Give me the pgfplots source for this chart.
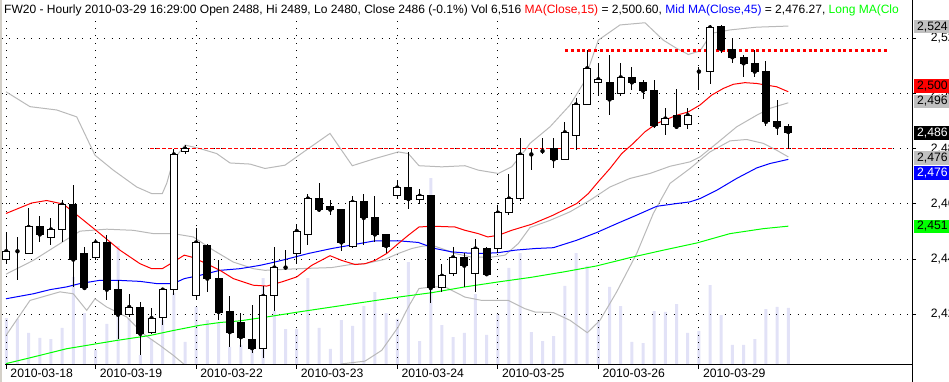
\documentclass[border=0pt]{standalone}
\usepackage{fontspec}
\setmainfont{Liberation Sans}
\usepackage{pgfplots}
\pgfplotsset{compat=1.18}
\usepackage{pgfplotstable}

\definecolor{volc}{RGB}{226,226,247}
\definecolor{bandc}{RGB}{185,185,185}
\definecolor{lblgrey}{RGB}{192,192,192}
\definecolor{magreen}{RGB}{0,255,0}
\definecolor{mared}{RGB}{255,0,0}
\definecolor{mablue}{RGB}{0,0,255}
\definecolor{winborder}{RGB}{212,208,200}

\pgfplotstableread{
i o h l c v
0 2439.8 2449.7 2438.3 2442.8 5370
1 2442.8 2448.0 2432.3 2442.8 5260
2 2442.0 2458.6 2442.0 2451.6 3660
3 2451.6 2455.5 2446.2 2448.9 3090
4 2447.8 2454.7 2445.0 2450.7 2970
5 2450.7 2461.5 2446.2 2459.7 4230
6 2459.7 2466.7 2429.9 2439.8 10060
7 2442.0 2444.4 2429.5 2429.5 5940
8 2440.7 2447.4 2439.8 2446.0 1710
9 2446.0 2448.6 2425.3 2428.9 4690
10 2428.9 2432.5 2411.1 2419.8 13600
11 2419.8 2427.4 2419.0 2422.6 5370
12 2422.6 2424.4 2405.1 2412.9 1140
13 2413.5 2422.4 2412.9 2418.6 2970
14 2418.7 2428.9 2416.2 2428.9 5140
15 2428.9 2480.0 2426.8 2477.9 8230
16 2478.8 2481.3 2478.2 2480.0 2630
17 2426.6 2451.4 2425.0 2446.0 6630
18 2445.0 2445.6 2428.0 2432.9 5140
19 2432.9 2439.5 2417.8 2420.8 4910
20 2421.0 2426.5 2408.1 2413.5 2060
21 2416.9 2420.6 2408.1 2411.7 2290
22 2410.8 2423.5 2405.9 2407.7 2400
23 2407.7 2430.2 2404.1 2426.6 9940
24 2426.6 2444.4 2421.0 2436.9 6170
25 2436.9 2443.4 2435.9 2436.9 4110
26 2442.0 2452.8 2438.1 2450.1 4110
27 2448.9 2463.5 2445.0 2461.9 9940
28 2461.9 2467.4 2457.1 2457.9 4230
29 2459.1 2461.5 2456.1 2457.9 1830
30 2457.9 2457.9 2442.9 2446.0 5140
31 2444.7 2462.8 2444.1 2460.7 4460
32 2460.7 2463.5 2445.0 2454.9 6740
33 2455.0 2462.8 2446.2 2448.9 8340
34 2448.9 2448.9 2442.3 2444.7 5940
35 2462.9 2468.6 2461.9 2465.9 5260
36 2465.9 2478.6 2458.0 2461.7 11770
37 2461.7 2465.5 2459.9 2462.9 2740
38 2463.1 2463.1 2424.1 2429.5 21370
39 2429.6 2438.3 2428.1 2433.9 4570
40 2434.6 2444.4 2434.0 2440.6 3200
41 2440.6 2442.0 2429.9 2437.6 3660
42 2434.7 2447.4 2428.1 2443.8 8110
43 2443.8 2444.4 2434.5 2434.5 3430
44 2443.8 2459.5 2442.0 2456.8 5830
45 2456.8 2470.7 2455.9 2461.9 11090
46 2461.9 2483.9 2461.1 2477.9 12800
47 2477.9 2480.0 2472.2 2477.9 3770
48 2479.1 2483.7 2478.2 2479.1 2740
49 2480.0 2483.7 2473.0 2476.1 3310
50 2476.1 2489.5 2476.1 2485.9 9030
51 2484.6 2498.5 2479.4 2496.0 12800
52 2496.0 2515.7 2496.0 2509.1 11320
53 2504.0 2511.1 2499.2 2505.1 5140
54 2504.0 2513.9 2492.1 2497.8 8920
55 2500.0 2510.9 2499.0 2505.8 6740
56 2505.8 2509.7 2501.2 2504.0 2630
57 2504.0 2504.8 2497.9 2501.0 2510
58 2501.2 2504.8 2487.3 2488.5 6170
59 2488.8 2494.6 2484.9 2490.9 6060
60 2492.1 2501.6 2487.1 2487.9 6970
61 2488.8 2494.6 2487.1 2492.1 3660
62 2507.9 2509.7 2501.2 2507.9 3890
63 2507.9 2524.8 2503.3 2523.9 9140
64 2524.2 2524.8 2514.5 2516.0 5710
65 2516.0 2520.0 2511.1 2513.1 2290
66 2513.1 2513.9 2506.0 2510.9 2290
67 2510.9 2515.7 2506.0 2507.9 2970
68 2508.1 2511.9 2488.2 2489.7 6400
69 2490.0 2497.6 2484.9 2487.9 6630
70 2488.0 2489.0 2480.0 2486.0 6516
}\candles

% moving averages and bands: x = chart pixel position, y = price
\pgfplotstableread{
x p
6 2456.5
31.7 2460.3
46.7 2461.2
63.3 2459.9
83.3 2454.1
100 2449.2
120 2443.2
140 2438.3
151.7 2436.5
162.3 2436.5
173.3 2438.9
184.3 2441.4
191.7 2440.7
206.7 2438.3
220 2435.9
233.3 2432.9
253.3 2430.5
266.7 2430.2
281.7 2431.7
296.7 2433.5
311.7 2437.7
330 2441.2
341.7 2439.5
355 2438.0
365 2438.3
375 2439.5
386.7 2442.0
398.3 2445.6
408.3 2448.6
419 2451.6
431.7 2451.9
455 2451.6
465 2450.4
478.3 2449.2
487.7 2448.0
498.3 2448.6
511.7 2450.4
531.7 2452.6
553.3 2455.9
576.7 2460.1
588.3 2463.7
598.3 2468.0
610 2472.8
621.7 2478.2
633.3 2481.9
645 2486.1
656.7 2489.1
676.7 2492.1
688.3 2493.3
700 2495.8
711.7 2499.4
723.3 2501.8
733.3 2503.3
745 2503.9
756.7 2503.6
766.7 2503.0
776.7 2502.4
788.3 2500.6
}\maShort

\pgfplotstableread{
x p
6 2425.6
33.3 2427.4
50 2428.9
66.7 2429.9
80 2431.1
100 2432.3
116.7 2432.3
140 2431.9
156.7 2431.1
173.3 2431.1
184.3 2432.9
200 2434.1
220 2435.9
240 2436.5
260 2437.7
270 2438.5
285 2439.8
308.3 2442.0
331.7 2443.8
355 2445.3
375 2446.6
398.3 2446.6
418.3 2446.0
435 2443.8
451.7 2442.6
465 2442.2
481.7 2442.0
498.3 2442.3
515 2443.2
535 2443.8
553.3 2444.1
576.7 2446.8
596.7 2449.6
616.7 2452.8
636.7 2455.9
656.7 2459.1
676.7 2460.1
690 2460.7
700 2461.9
716.7 2464.9
736.7 2469.2
756.7 2473.0
770 2474.6
788.3 2476.1
}\maMid

\pgfplotstableread{
x p
6 2402.1
33.3 2404.5
66.7 2407.5
96.7 2409.3
116.7 2410.5
150 2412.3
173.3 2414.1
200 2416.0
220 2417.0
240 2417.6
266.7 2419.0
298.3 2420.8
331.7 2422.6
365 2424.4
398.3 2426.2
431.7 2427.8
465 2429.9
498.3 2431.7
530 2433.3
563.3 2435.3
596.7 2437.5
630 2440.5
663.3 2443.2
696.7 2445.8
730 2449.2
763.3 2451.0
788.3 2451.9
}\maLong

\pgfplotstableread{
x p
6 2500.6
30 2495.2
56.7 2494.0
76.7 2491.5
95 2477.6
113.3 2472.2
136.7 2466.1
151.7 2463.7
162.3 2463.7
166.7 2467.4
173.3 2475.8
185 2481.3
200 2480.0
216.7 2478.2
230 2474.8
250 2474.4
265 2472.8
285 2474.0
308.3 2480.0
330 2485.5
352.3 2473.8
375 2476.4
398.3 2478.8
408.3 2478.2
419 2473.8
441.7 2473.4
465 2473.8
478.3 2472.2
498.3 2471.0
511.7 2473.4
525 2479.4
530 2481.9
550 2487.9
570 2495.8
583.3 2503.6
598.3 2519.3
620 2524.8
645 2525.6
663.3 2519.3
676.7 2516.3
688.3 2514.1
700 2515.4
711.7 2521.8
730 2523.0
756.7 2524.0
788.3 2524.4
}\bandA

\pgfplotstableread{
x p
6 2412.3
30 2425.0
60 2428.1
73.3 2427.4
86.7 2421.4
95 2425.6
106.7 2422.6
126.7 2419.0
143.3 2412.9
160 2408.7
173.3 2405.1
183.3 2402.1
195 2399.0
230 2395.0
280 2395.0
320 2398.0
341.7 2402.0
365 2403.0
381.7 2406.9
398.3 2415.4
408.3 2422.6
419 2429.3
431.7 2429.9
445 2429.9
465 2426.2
481.7 2425.0
508.3 2425.0
525 2422.0
535 2420.8
553.3 2420.6
570 2417.8
587.3 2413.3
600 2417.8
616.7 2428.1
636.7 2442.0
653.3 2456.5
670 2467.4
690 2472.8
710 2478.8
730 2482.8
746.7 2483.3
763.3 2481.9
776.7 2479.4
788.3 2477.0
}\bandB

\pgfplotstableread{
x p
6 2434.5
33.3 2439.5
60 2445.6
80 2450.1
106.7 2450.8
133.3 2450.4
153.3 2449.2
173.3 2449.2
193.3 2448.0
213.3 2443.2
233.3 2438.9
253.3 2436.5
265 2435.9
298.3 2436.5
331.7 2436.9
352.3 2438.1
365 2438.3
385 2439.9
398.3 2442.0
411.7 2443.8
421.7 2444.6
431.7 2445.0
441.7 2443.8
455 2442.0
471.7 2440.7
491.7 2440.7
505 2441.4
518.3 2445.6
530 2451.4
550 2454.0
570 2457.1
590 2461.3
610 2466.1
630 2469.2
650 2471.0
670 2473.6
690 2475.2
700 2477.0
716.7 2481.9
736.7 2487.9
756.7 2492.1
770 2494.6
788.3 2496.6
}\bandC

\newcommand{\chartfont}{\fontsize{12.2bp}{14bp}\selectfont}
\newcommand{\headfont}{\fontsize{12.02bp}{14bp}\selectfont}

\pgfplotsset{
  chartbase/.style={
    at={(2bp,17bp)}, anchor=south west, scale only axis,
    width=910bp, height=345bp,
    xmin=2, xmax=912, ymin=2401.6, ymax=2526.6,
  },
}

\begin{document}
\begin{tikzpicture}
% volume
\begin{axis}[chartbase, ymin=0, ymax=39433, hide axis, ybar, bar width=3bp]
\addplot[fill=volc, draw=none] table[x expr={6.3+11.171*\thisrow{i}}, y=v]{\candles};
\end{axis}
% price panel
\begin{axis}[chartbase,
  axis line style={draw=none},
  xtick={6.3,95.67,196.2,296.75,397.3,497.8,598.4,698.9},
  xticklabels={2010-03-18,2010-03-19,2010-03-22,2010-03-23,2010-03-24,2010-03-25,2010-03-26,2010-03-29},
  ytick={2420,2440,2460,2480,2500,2520},
  yticklabels={{2,420},{2,440},{2,460},{2,480},{2,500},{2,520}},
  xtick pos=bottom, ytick pos=right, yticklabel pos=right,
  tick align=outside, major tick length=4bp,
  tick style={black, line width=1bp},
  grid=major,
  grid style={black, line width=1bp, dash pattern=on 1bp off 6.3bp},
  xticklabel style={anchor=base west, inner sep=0pt, xshift=4bp, yshift=-8.3bp, font=\chartfont},
  yticklabel style={anchor=west, inner sep=0pt, xshift=14.7bp, font=\chartfont},
]
\addplot[bandc, line width=1bp] table[x=x, y=p]{\bandA};
\addplot[bandc, line width=1bp] table[x=x, y=p]{\bandB};
\addplot[bandc, line width=1bp] table[x=x, y=p]{\bandC};
\addplot[magreen, line width=1bp] table[x=x, y=p]{\maLong};
\addplot[mablue, line width=1bp] table[x=x, y=p]{\maMid};
\addplot[mared, line width=1bp] table[x=x, y=p]{\maShort};
\addplot[mared, line width=1bp, dash pattern=on 3.5bp off 2.5bp] coordinates {(150,2480) (893,2480)};
\addplot[mared, line width=3bp, dash pattern=on 3bp off 2.8bp] coordinates {(565,2515.6) (887,2515.6)};
\addplot[only marks, mark=none,
  error bars/.cd, y dir=both, y explicit, error mark=none,
  error bar style={black, line width=1bp}]
  table[x expr={6.3+11.171*\thisrow{i}}, y=c,
        y error plus expr={\thisrow{h}-\thisrow{c}},
        y error minus expr={\thisrow{c}-\thisrow{l}}]{\candles};
\end{axis}
% candle bodies
\begin{axis}[chartbase, hide axis, ybar stacked, bar width=7bp]
\addplot[draw=none, fill=none] table[x expr={6.3+11.171*\thisrow{i}}, y expr={min(\thisrow{o},\thisrow{c})}]{\candles};
\addplot[draw=black, fill=white, line width=1bp] table[x expr={6.3+11.171*\thisrow{i}}, y expr={max(\thisrow{c}-\thisrow{o},0)}]{\candles};
\addplot[draw=black, fill=black, line width=1bp] table[x expr={6.3+11.171*\thisrow{i}}, y expr={max(\thisrow{o}-\thisrow{c},0)}]{\candles};
\end{axis}
% frame
\draw[winborder, line width=1.5bp] (0.75bp,0) -- (0.75bp,382bp);
\draw[black, line width=1bp] (5bp,17bp) -- (912bp,17bp);
\draw[black, line width=1bp] (912bp,0) -- (912bp,382bp);
% header
\node[anchor=base west, inner sep=0pt, font=\headfont] at (4bp,368.5bp)
  {FW20 - Hourly 2010-03-29 16:29:00 Open 2488, Hi 2489, Lo 2480, Close 2486 (-0.1\%) Vol 6,516 \textcolor{mared}{MA(Close,15)} = 2,500.60, \textcolor{mablue}{Mid MA(Close,45)} = 2,476.27, \textcolor{magreen}{Long MA(Clo}};
% last-value labels
\tikzset{vl/.style={anchor=west, inner xsep=3bp, inner ysep=0pt, minimum height=13.5bp, text width=34bp, align=left, font=\chartfont}}
\node[vl, fill=lblgrey, text=black] at (914bp,355.3bp) {2,524};
\node[vl, fill=mared, text=black] at (914bp,296bp) {2,500};
\node[vl, fill=lblgrey, text=black] at (914bp,280.7bp) {2,496};
\node[vl, fill=black, text=white] at (914bp,249bp) {2,486};
\node[vl, fill=lblgrey, text=black] at (914bp,224bp) {2,476};
\node[vl, fill=mablue, text=white] at (914bp,208.8bp) {2,476};
\node[vl, fill=magreen, text=black] at (914bp,155.7bp) {2,451};
\pgfresetboundingbox
\path[use as bounding box] (0,0) rectangle (949bp,382bp);
\end{tikzpicture}
\end{document}
